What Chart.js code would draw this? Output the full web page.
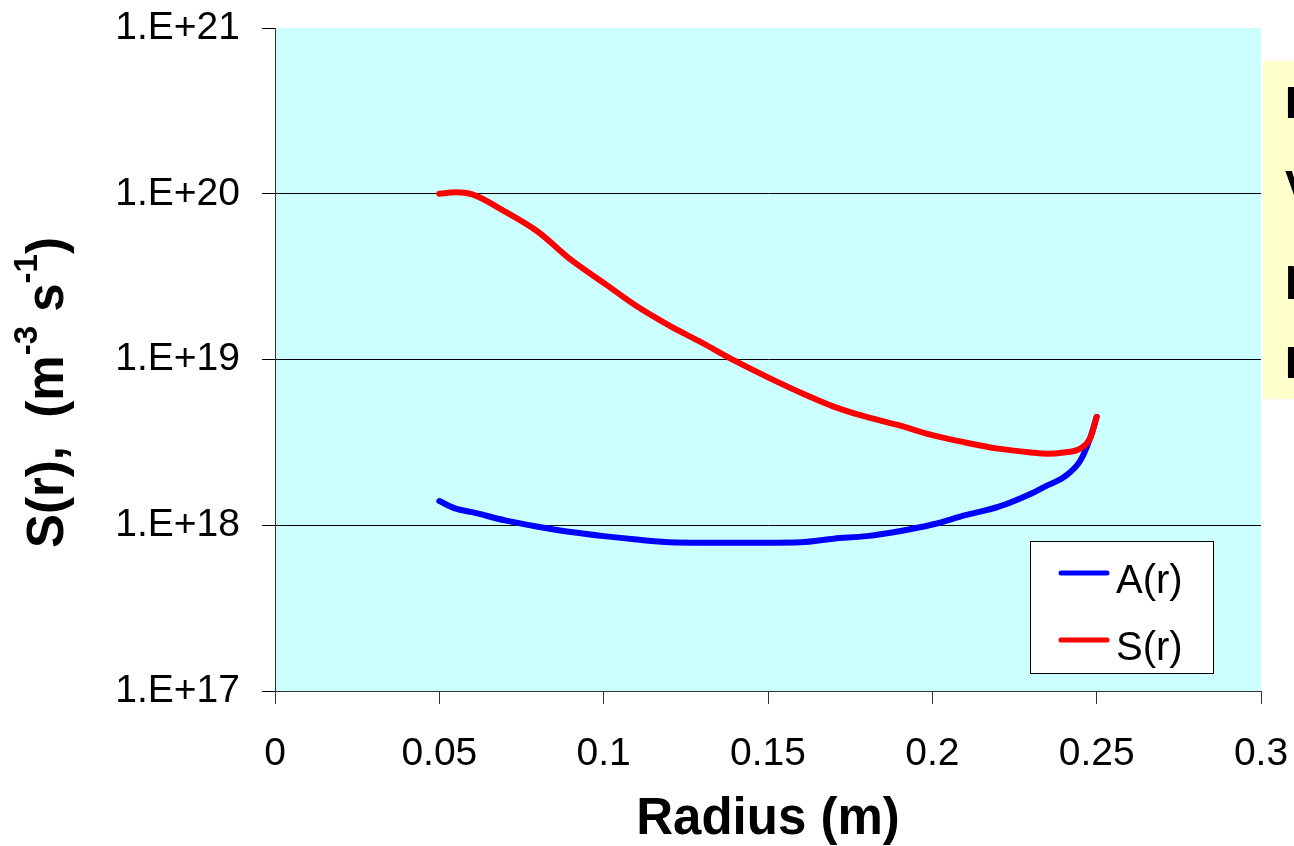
<!DOCTYPE html>
<html>
<head>
<meta charset="utf-8">
<script src="https://cdn.jsdelivr.net/npm/chart.js@4"></script>
<style>
  body { margin: 0; background: #fff; }
  canvas { display: block; }
</style>
</head>
<body>
<canvas id="srChart" width="1294" height="846"></canvas>
<script>
// Chart Data
const radius = [0.05, 0.055, 0.06, 0.07, 0.08, 0.09, 0.10, 0.11, 0.12, 0.13, 0.14, 0.15, 0.16,
                0.17, 0.18, 0.19, 0.20, 0.21, 0.22, 0.23, 0.235, 0.24, 0.245, 0.248, 0.25];
const aValues = [1.40e18, 1.26e18, 1.20e18, 1.07e18, 9.8e17, 9.1e17, 8.6e17, 8.2e17, 7.9e17, 7.85e17,
                 7.85e17, 7.85e17, 7.9e17, 8.3e17, 8.6e17, 9.2e17, 1.01e18, 1.15e18, 1.29e18, 1.55e18,
                 1.74e18, 1.95e18, 2.45e18, 3.35e18, 4.5e18];
const sValues = [1.00e20, 1.02e20, 9.9e19, 7.8e19, 5.9e19, 4.0e19, 2.9e19, 2.1e19, 1.6e19, 1.26e19,
                 9.8e18, 7.8e18, 6.3e18, 5.2e18, 4.5e18, 4.0e18, 3.5e18, 3.16e18, 2.9e18, 2.75e18,
                 2.7e18, 2.75e18, 2.9e18, 3.35e18, 4.5e18];
const seriesNames = ['A(r)', 'S(r)'];
const seriesColors = ['#0000FF', '#FF0000'];

const yTickValues = [1e17, 1e18, 1e19, 1e20, 1e21];
const yTickLabels = ['1.E+17', '1.E+18', '1.E+19', '1.E+20', '1.E+21'];
const xTickLabels = ['0', '0.05', '0.1', '0.15', '0.2', '0.25', '0.3'];

const xTitle = 'Radius (m)';
const yTitleParts = [['S(r),  (m', false], ['-3', true], [' s', false], ['-1', true], [')', false]];
const noteLetters = ['D', 'V', 'p', 'I'];

const FONT = "'Liberation Sans', Arial, sans-serif";

// no extra room for overflowing tick labels
function noPad(s) {
    s.paddingLeft = 0;
    s.paddingRight = 0;
    s.paddingTop = 0;
    s.paddingBottom = 0;
}

// background, legend, y title and side note
const decor = {
    id: 'decor',
    beforeDraw(chart) {
        const { ctx, chartArea: a } = chart;
        ctx.save();
        ctx.fillStyle = '#fff';
        ctx.fillRect(0, 0, chart.width, chart.height);
        ctx.fillStyle = '#CCFFFF';
        ctx.fillRect(a.left, a.top, a.right - a.left, a.bottom - a.top);
        ctx.restore();
    },
    afterDraw(chart) {
        const ctx = chart.ctx;
        ctx.save();

        // legend box
        ctx.fillStyle = '#fff';
        ctx.fillRect(1030, 541, 184, 133);
        ctx.strokeStyle = '#000';
        ctx.lineWidth = 1;
        ctx.strokeRect(1030.5, 541.5, 183, 132);
        ctx.font = '40px ' + FONT;
        ctx.textBaseline = 'alphabetic';
        ctx.textAlign = 'left';
        chart.data.datasets.forEach((ds, i) => {
            const y = 573 + i * 67;
            ctx.strokeStyle = ds.borderColor;
            ctx.lineWidth = 5;
            ctx.lineCap = 'round';
            ctx.beginPath();
            ctx.moveTo(1061, y);
            ctx.lineTo(1107, y);
            ctx.stroke();
            ctx.fillStyle = '#000';
            ctx.fillText(ds.label, 1116, y + 20);
        });

        // y axis title with superscripts
        ctx.translate(63, 548);
        ctx.rotate(-Math.PI / 2);
        ctx.fillStyle = '#000';
        let x = 0;
        yTitleParts.forEach(([t, sup]) => {
            ctx.font = (sup ? 'bold 33px ' : 'bold 51px ') + FONT;
            ctx.fillText(t, x, sup ? -26 : 0);
            x += ctx.measureText(t).width;
        });
        ctx.setTransform(1, 0, 0, 1, 0, 0);

        // side note box, cut by the edge
        ctx.fillStyle = '#FFFFCC';
        ctx.fillRect(1263, 61, 40, 338);
        ctx.fillStyle = '#000';
        ctx.font = 'bold 44px ' + FONT;
        const baselines = [118, 202, 290, 378];
        noteLetters.forEach((t, i) => ctx.fillText(t, 1285, baselines[i]));
        ctx.restore();
    }
};

const ctx = document.getElementById('srChart').getContext('2d');
new Chart(ctx, {
    type: 'line',
    data: {
        datasets: [
            {
                label: seriesNames[0],
                data: radius.map((r, i) => ({ x: r, y: aValues[i] })),
                borderColor: seriesColors[0],
                order: 1
            },
            {
                label: seriesNames[1],
                data: radius.map((r, i) => ({ x: r, y: sValues[i] })),
                borderColor: seriesColors[1],
                order: 0
            }
        ]
    },
    options: {
        responsive: false,
        animation: false,
        layout: { padding: { left: 0, top: 28, right: 33, bottom: 0 } },
        elements: {
            point: { radius: 0 },
            line: { borderWidth: 6, cubicInterpolationMode: 'monotone', borderJoinStyle: 'round', borderCapStyle: 'round', fill: false }
        },
        plugins: {
            legend: { display: false },
            tooltip: { enabled: false }
        },
        scales: {
            x: {
                type: 'linear',
                min: 0,
                max: 0.3,
                afterFit: s => { s.height = 155; noPad(s); },
                afterBuildTicks: s => { s.ticks = xTickLabels.map(v => ({ value: parseFloat(v) })); },
                ticks: {
                    color: '#000',
                    font: { family: FONT, size: 39 },
                    padding: 27,
                    maxRotation: 0,
                    callback: (v, i) => xTickLabels[i]
                },
                grid: { drawOnChartArea: false, drawTicks: true, tickLength: 13, tickColor: '#333' },
                border: { display: true, color: '#333' },
                title: {
                    display: true,
                    text: xTitle,
                    color: '#000',
                    font: { family: FONT, size: 51, weight: 'bold', lineHeight: 1 },
                    padding: { top: 0, bottom: 1 }
                }
            },
            y: {
                type: 'logarithmic',
                min: 1e17,
                max: 1e21,
                afterFit: s => { s.width = 275; noPad(s); },
                afterBuildTicks: s => { s.ticks = yTickValues.map(v => ({ value: v })); },
                ticks: {
                    color: '#000',
                    font: { family: FONT, size: 39 },
                    padding: 22,
                    callback: (v, i) => yTickLabels[i]
                },
                grid: {
                    color: c => (c.tick && c.tick.value === 1e21 ? 'rgba(0,0,0,0)' : '#000'),
                    lineWidth: 1,
                    tickLength: 13,
                    tickColor: '#000'
                },
                border: { display: true, color: '#333' }
            }
        }
    },
    plugins: [decor]
});
</script>
</body>
</html>
